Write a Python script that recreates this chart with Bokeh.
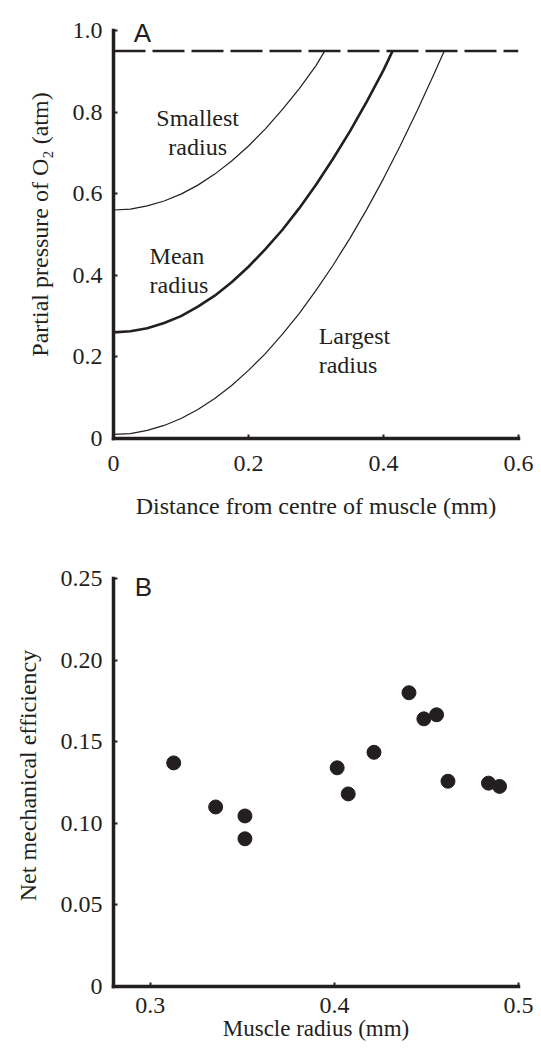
from bokeh.plotting import figure
from bokeh.layouts import column
from bokeh.models import FixedTicker, Range1d, Title
from bokeh.core.properties import value
from bokeh.embed import file_html
from bokeh.resources import INLINE

# ---------------- Panel A data ----------------
dist_small = [0, 0.025, 0.05, 0.075, 0.1, 0.125, 0.15, 0.175, 0.2, 0.225, 0.25, 0.275, 0.3, 0.313]
po2_small = [0.560, 0.562, 0.570, 0.582, 0.599, 0.621, 0.648, 0.680, 0.717, 0.759, 0.806, 0.857, 0.914, 0.950]

dist_mean = [0, 0.025, 0.05, 0.075, 0.1, 0.125, 0.15, 0.175, 0.2, 0.225, 0.25, 0.275, 0.3, 0.325, 0.35, 0.375, 0.4, 0.4135]
po2_mean = [0.260, 0.263, 0.270, 0.283, 0.300, 0.323, 0.350, 0.383, 0.421, 0.464, 0.511, 0.564, 0.622, 0.685, 0.752, 0.825, 0.903, 0.950]

dist_large = [0, 0.025, 0.05, 0.075, 0.1, 0.125, 0.15, 0.175, 0.2, 0.225, 0.25, 0.275, 0.3, 0.325, 0.35, 0.375, 0.4, 0.425, 0.45, 0.475, 0.49]
po2_large = [0.010, 0.012, 0.020, 0.032, 0.049, 0.071, 0.098, 0.130, 0.167, 0.208, 0.255, 0.306, 0.363, 0.424, 0.490, 0.561, 0.637, 0.718, 0.804, 0.894, 0.950]

ambient_x = [0, 0.6]
ambient_y = [0.95, 0.95]

a_xticks = [0, 0.2, 0.4, 0.6]
a_xlabels = ["0", "0.2", "0.4", "0.6"]
a_yticks = [0, 0.2, 0.4, 0.6, 0.8, 1.0]
a_ylabels = ["0", "0.2", "0.4", "0.6", "0.8", "1.0"]
a_xtitle = "Distance from centre of muscle (mm)"
a_ytitle = "Partial pressure of O\u2082 (atm)"

a_text = ["Smallest", "radius", "Mean", "radius", "Largest", "radius"]

# ---------------- Panel B data ----------------
radius = [0.3127, 0.3355, 0.3514, 0.3514, 0.4015, 0.4075, 0.4215, 0.4405, 0.4486, 0.4555, 0.4617, 0.4837, 0.4897]
efficiency = [0.137, 0.110, 0.1045, 0.0905, 0.134, 0.118, 0.1435, 0.180, 0.164, 0.1665, 0.1258, 0.1246, 0.1226]

b_xticks = [0.3, 0.4, 0.5]
b_xlabels = ["0.3", "0.4", "0.5"]
b_yticks = [0, 0.05, 0.10, 0.15, 0.20, 0.25]
b_ylabels = ["0", "0.05", "0.10", "0.15", "0.20", "0.25"]
b_xtitle = "Muscle radius (mm)"
b_ytitle = "Net mechanical efficiency"

panel_letters = ["A", "B"]

INK = "#231f20"
SERIF = "'Liberation Serif', 'Times New Roman', serif"
SANS = "'Liberation Sans', Arial, sans-serif"


def style(p, xticks, xlabels, yticks, ylabels, ybounds):
    p.outline_line_color = None
    p.grid.grid_line_color = None
    p.background_fill_color = "white"
    p.border_fill_color = "white"
    p.xaxis.ticker = FixedTicker(ticks=xticks)
    p.yaxis.ticker = FixedTicker(ticks=yticks)
    p.yaxis.bounds = ybounds
    p.xaxis.major_label_overrides = {t: l for t, l in zip(xticks, xlabels)}
    p.yaxis.major_label_overrides = {t: l for t, l in zip(yticks, ylabels)}
    for ax in (p.xaxis, p.yaxis):
        ax.axis_line_width = 3.5
        ax.axis_line_color = INK
        ax.axis_line_cap = "square"
        ax.major_tick_in = 4
        ax.major_tick_out = 0
        ax.major_tick_line_width = 2
        ax.major_tick_line_color = INK
        ax.minor_tick_line_color = None
        ax.major_label_text_font = SERIF
        ax.major_label_text_font_size = "24px"
        ax.major_label_text_font_style = "normal"
        ax.major_label_text_color = INK
        ax.axis_label_text_font = SERIF
        ax.axis_label_text_font_size = "24px"
        ax.axis_label_text_font_style = "normal"
        ax.axis_label_text_color = INK
    p.yaxis.major_label_standoff = 11


def side_title(text, standoff):
    return Title(text=text, align="center", vertical_align="top", standoff=standoff,
                 text_font=SERIF, text_font_size="24px", text_font_style="normal", text_color=INK)


# ---------------- Panel A ----------------
pa = figure(width=533, height=548, output_backend="svg", toolbar_location=None,
            x_range=Range1d(0, 0.6), y_range=Range1d(0, 1.049),
            min_border_left=111, min_border_right=15, min_border_top=10, min_border_bottom=110)
style(pa, a_xticks, a_xlabels, a_yticks, a_ylabels, (0, 1.0))
pa.xaxis.axis_label = a_xtitle
pa.xaxis.major_label_standoff = 17
pa.xaxis.axis_label_standoff = 19
pa.add_layout(side_title(a_ytitle, 29), "left")

pa.line(ambient_x, ambient_y, line_color=INK, line_width=2.5, line_dash="32 7")
pa.line(dist_small, po2_small, line_color=INK, line_width=1.2)
pa.line(dist_mean, po2_mean, line_color=INK, line_width=2.6)
pa.line(dist_large, po2_large, line_color=INK, line_width=1.2)

pa.text(x=[0.1247, 0.1247], y=[0.785, 0.714], text=a_text[0:2],
        text_align="center", text_baseline="alphabetic",
        text_font=value(SERIF), text_font_size="24px", text_color=INK)
pa.text(x=[0.0535, 0.0535, 0.304, 0.304], y=[0.447, 0.376, 0.252, 0.180], text=a_text[2:6],
        text_align="left", text_baseline="alphabetic",
        text_font=value(SERIF), text_font_size="24px", text_color=INK)

pa.text(x=[0.03], y=[0.995], text=panel_letters[0:1], text_align="left", text_baseline="alphabetic",
        text_font=value(SANS), text_font_size="26px", text_color=INK)

# ---------------- Panel B ----------------
pb = figure(width=533, height=504, output_backend="svg", toolbar_location=None,
            x_range=Range1d(0.28, 0.5), y_range=Range1d(0, 0.25858),
            min_border_left=110, min_border_right=15, min_border_top=16, min_border_bottom=66)
style(pb, b_xticks, b_xlabels, b_yticks, b_ylabels, (0, 0.25))
pb.xaxis.axis_label = b_xtitle
pb.xaxis.axis_label_text_font_size = "23px"
pb.xaxis.major_label_standoff = 11
pb.xaxis.axis_label_standoff = 0
pb.add_layout(side_title(b_ytitle, 29), "left")

pb.scatter(radius, efficiency, size=14, fill_color=INK, line_color=INK)

pb.text(x=[0.2915], y=[0.2445], text=panel_letters[1:2], text_align="left", text_baseline="alphabetic",
        text_font=value(SANS), text_font_size="26px", text_color=INK)

layout = column(pa, pb, spacing=0)
open("out.html", "w").write(file_html(layout, INLINE))
